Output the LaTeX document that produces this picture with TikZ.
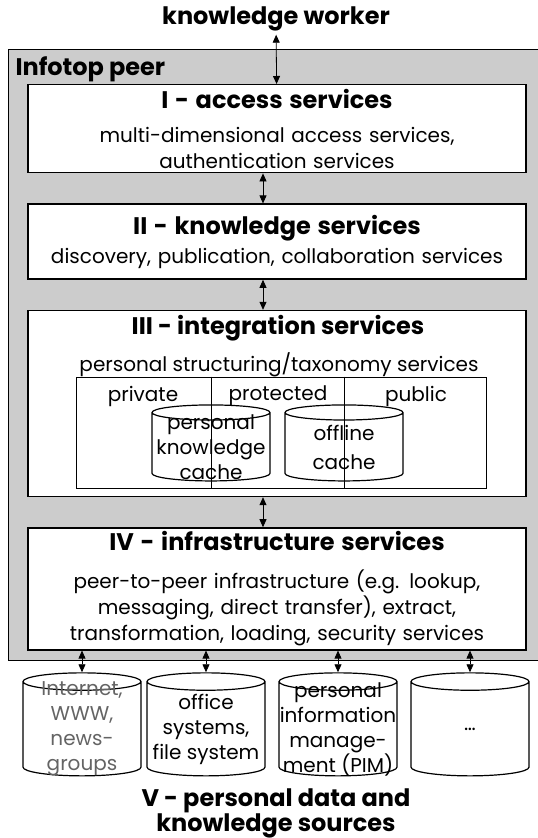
\documentclass[tikz,border=0pt]{standalone}
\usepackage{fontspec}
\setmainfont{Poppins}
\definecolor{peergrey}{RGB}{204,204,204}
\definecolor{srcgrey}{RGB}{100,100,100}
\usetikzlibrary{arrows.meta, shapes.geometric, positioning}
\newcommand{\hdfont}{\fontsize{24}{23}\selectfont\bfseries}
\newcommand{\bodyfont}{\fontsize{20}{26}\selectfont}
\newcommand{\dbfont}{\fontsize{20}{25}\selectfont}

\begin{document}
\begin{tikzpicture}[
    x=1pt, y=-1pt,
    node distance=30pt,
    layer/.style={draw, line width=1.4pt, fill=white, minimum width=498pt,
                  inner sep=0pt, text width=490pt, align=center, font=\bodyfont},
    db/.style={cylinder, shape border rotate=90, draw, line width=1.2pt, aspect=0.15,
               text width=116pt, minimum width=118pt, inner sep=0pt},
    dbtext/.style={inner sep=0pt, align=center, font=\dbfont},
    arr/.style={{Triangle[length=8pt,width=7pt]}-{Triangle[length=8pt,width=7pt]}, line width=0.8pt}
  ]
  \useasboundingbox (0,0) rectangle (538,838);
  \node[font=\hdfont] (worker) at (276,19) {knowledge worker};
  \node[draw, line width=1.2pt, fill=peergrey, minimum width=540pt, minimum height=611pt,
        anchor=north west, inner sep=0pt] (peer) at (8,49) {};
  \node[font=\hdfont, anchor=west] (peerlbl) at (12,69) {Infotop peer};

  \node[layer, minimum height=88pt, anchor=north] (access) at (277,84)
    {{\hdfont I - access services}\\[8pt]
     multi-dimensional access services,\\ authentication services};
  \node[layer, minimum height=75pt, below=of access] (knowl)
    {{\hdfont II - knowledge services}\\[3pt]
     discovery, publication, collaboration services};
  \node[layer, minimum height=186pt, below=of knowl] (integ) {};
  \node[layer, minimum height=122pt, below=of integ] (infra)
    {{\hdfont IV - infrastructure services}\\[12pt]
     peer-to-peer infrastructure (e.g. lookup,\\ messaging, direct transfer), extract,\\
     transformation, loading, security services};

  \node[font=\hdfont] (integt) at (278,328) {III - integration services};
  \node[font=\bodyfont] (struct) at (279,365) {personal structuring/taxonomy services};
  \node[draw, line width=1pt, minimum width=410pt, minimum height=111pt] (zones) at (281,432.5) {};
  \node[db, aspect=0.13, minimum height=76pt] (pkc) at (211,447) {};
  \node[db, aspect=0.13, minimum height=76pt] (occ) at (344,447) {};
  \node[dbtext] (pkct) at (pkc) {personal\\knowledge\\cache};
  \node[dbtext, font=\fontsize{20}{29}\selectfont] (occt) at (occ) {offline\\cache};
  \draw[line width=1pt] (pkc.center |- zones.north) -- (pkc.center |- zones.south);
  \draw[line width=1pt] (occ.center |- zones.north) -- (occ.center |- zones.south);
  \node[font=\bodyfont] (priv) at (143,396) {private};
  \node[font=\bodyfont] (prot) at (278,396) {protected};
  \node[font=\bodyfont] (publ) at (416,396) {public};

  \node[db, minimum height=103pt] (src1) at (82,729) {};
  \node[db, minimum height=103pt] (src2) at (206,729) {};
  \node[db, minimum height=103pt] (src3) at (338,729) {};
  \node[db, minimum height=103pt] (src4) at (470,729) {};
  \node[dbtext, text=srcgrey] (src1t) at (src1) {Internet,\\WWW,\\news-\\groups};
  \node[dbtext] (src2t) at (src2) {office\\systems,\\file system};
  \node[dbtext] (src3t) at (src3) {personal\\information\\manage-\\ment (PIM)};
  \node[dbtext] (src4t) at (src4) {\dots};
  \node[font=\hdfont, align=center] (srcs) at (276,813) {V - personal data and\\knowledge sources};

  \draw[arr] (worker) -- (access);
  \draw[arr] ([xshift=-14pt]access.south) -- ([xshift=-14pt]knowl.north);
  \draw[arr] ([xshift=-14pt]knowl.south) -- ([xshift=-14pt]integ.north);
  \draw[arr] ([xshift=-14pt]integ.south) -- ([xshift=-14pt]infra.north);
  \foreach \s in {src1,src2,src3,src4}
    \draw[arr] (infra.south -| \s.north) -- (\s.north);
\end{tikzpicture}
\end{document}
